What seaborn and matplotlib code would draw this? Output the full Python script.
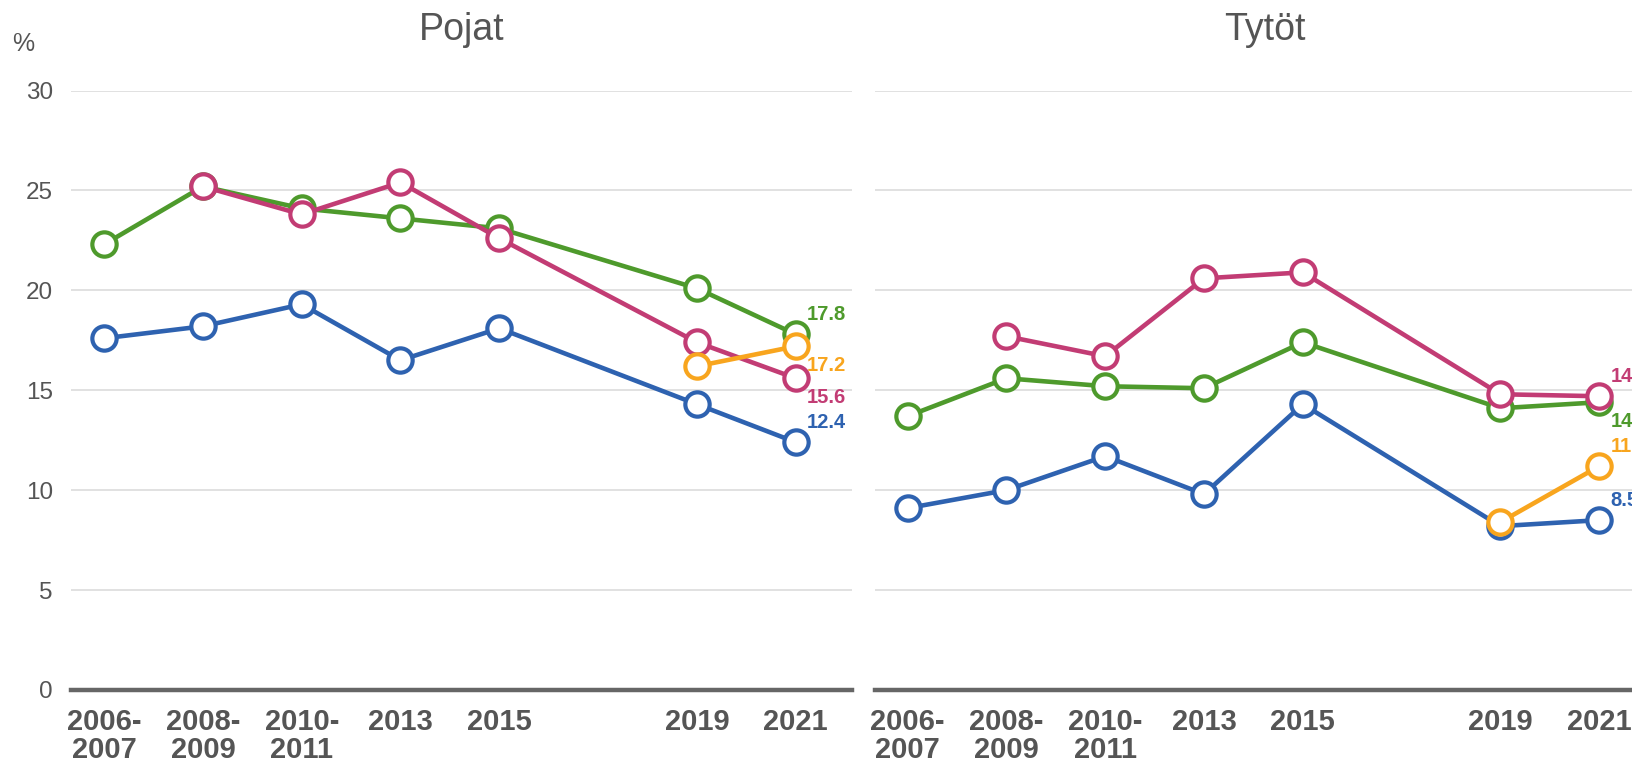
import numpy as np
import pandas as pd
import matplotlib
matplotlib.use("Agg")
import matplotlib.pyplot as plt
import seaborn as sns

# x positions (middle year of each survey round) and their labels
years = [2007, 2009, 2011, 2013, 2015, 2019, 2021]
year_labels = ["2006-\n2007", "2008-\n2009", "2010-\n2011", "2013", "2015", "2019", "2021"]

series_names = ["sarja1", "sarja2", "sarja3", "sarja4"]
colors = ["#2E62B0", "#4E9A2C", "#C23C74", "#F8A51E"]

# Pojat
pojat_blue = [17.6, 18.2, 19.3, 16.5, 18.1, 14.3, 12.4]
pojat_green = [22.3, 25.2, 24.1, 23.6, 23.1, 20.1, 17.8]
pojat_pink = [np.nan, 25.2, 23.8, 25.4, 22.6, 17.4, 15.6]
pojat_orange = [np.nan, np.nan, np.nan, np.nan, np.nan, 16.2, 17.2]

# Tytöt
tytot_blue = [9.1, 10.0, 11.7, 9.8, 14.3, 8.2, 8.5]
tytot_green = [13.7, 15.6, 15.2, 15.1, 17.4, 14.1, 14.4]
tytot_pink = [np.nan, 17.7, 16.7, 20.6, 20.9, 14.8, 14.7]
tytot_orange = [np.nan, np.nan, np.nan, np.nan, np.nan, 8.4, 11.2]

# label offsets for the 2021 end values (up = 1, down = -1)
pojat_lab_dir = [1, 1, -1, -1]
tytot_lab_dir = [1, -1, 1, 1]

panels = [
    ("Pojat", [pojat_blue, pojat_green, pojat_pink, pojat_orange], pojat_lab_dir),
    ("Tytöt", [tytot_blue, tytot_green, tytot_pink, tytot_orange], tytot_lab_dir),
]

sns.set_style("white")
plt.rcParams["font.family"] = ["Liberation Sans", "DejaVu Sans"]

fig = plt.figure(figsize=(16.32, 7.64), dpi=100)
W, H = 1632, 764
px_per_year = 49.4
xmin, xmax = 2006.33, 2022.13
ax_w = (xmax - xmin) * px_per_year / W
bottom = 1 - 690 / H
top = 1 - 90.5 / H
lefts = [71 / W, 874.5 / W]

grey = "#555555"

for i, (title, vals, dirs) in enumerate(panels):
    ax = fig.add_axes([lefts[i], bottom, ax_w, top - bottom])
    for name, v, c in zip(series_names, vals, colors):
        df = pd.DataFrame({"year": years, "value": v}).dropna()
        sns.lineplot(data=df, x="year", y="value", ax=ax, color=c, lw=3.3,
                     marker="o", markersize=17.5, markerfacecolor="white",
                     markeredgecolor=c, markeredgewidth=3.0, clip_on=False)
    for v, c, d in zip(vals, colors, dirs):
        last = v[-1]
        ax.annotate(f"{last:.1f}", (years[-1], last), xytext=(8, 14 * d),
                    textcoords="offset points", color=c, fontsize=14.5,
                    fontweight="bold", ha="left", va="center")
    ax.set_xlim(xmin, xmax)
    ax.set_ylim(0, 30)
    ax.set_yticks([0, 5, 10, 15, 20, 25, 30])
    ax.set_xticks(years)
    ax.set_xticklabels(year_labels, fontsize=21, fontweight="bold", color=grey,
                       linespacing=1.0)
    ax.yaxis.grid(True, color="#dcdcdc", lw=1.2)
    ax.set_axisbelow(True)
    for s in ["left", "right", "top"]:
        ax.spines[s].set_visible(False)
    ax.spines["bottom"].set_color("#666666")
    ax.spines["bottom"].set_linewidth(3.2)
    ax.tick_params(axis="x", length=0, pad=13)
    ax.tick_params(axis="y", length=0, pad=13, labelsize=17.5, labelcolor=grey)
    if i == 1:
        ax.set_yticklabels([])
    ax.set_xlabel("")
    ax.set_ylabel("")
    ax.set_title(title, fontsize=27, color=grey, pad=36)

fig.text(23 / W, 1 - 44 / H, "%", fontsize=18, color=grey, ha="center", va="center")

fig.savefig("out.png", dpi=100)
